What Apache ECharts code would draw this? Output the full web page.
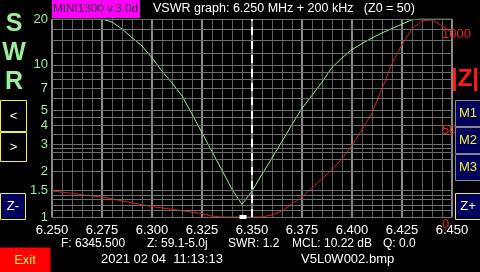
<!DOCTYPE html>
<html><head><meta charset="utf-8">
<style>html,body{margin:0;padding:0;background:#000;}#c{width:480px;height:272px;}</style>
<script src="https://cdn.jsdelivr.net/npm/echarts@6/dist/echarts.min.js"></script>
</head><body><div id="c"></div>
<script>
// Frequencies in MHz
const freqs = [6.250,6.255,6.260,6.265,6.270,6.275,6.280,6.285,6.290,6.295,6.300,6.305,6.310,6.315,6.320,6.325,6.330,6.335,6.340,6.345,6.3455,6.350,6.355,6.360,6.365,6.370,6.375,6.380,6.385,6.390,6.395,6.400,6.405,6.410,6.415,6.420,6.425,6.430,6.435,6.440,6.445,6.450];
// SWR values (left, log scale)
const swr = [20,20,20,20,20,20,19.1,17.2,15.1,13.3,11.1,9.1,7.6,6.25,4.75,3.57,2.69,2.03,1.52,1.21,1.2,1.48,1.91,2.44,3.14,4.05,5.17,6.3,7.7,9.6,11.1,12.6,13.8,15.0,16.2,17.3,18.5,19.8,20,20,20,20];
// |Z| values in ohms (right scale)
const zmag = [150,143,136,128,121,115,104,93,82,71,60,52,44,36,28,20,5,0,0,0,0,0,0,12,35,75,115,167,221,272,336,412,503,600,738,885,991,1083,1129,1135,1101,1060];
// Tick labels
const swrLabels = [1,1.5,2,3,4,5,7,10,13,16,20];
const swrGrid = [1,1.1,1.2,1.3,1.4,1.5,2,2.4,2.65,2.85,3,3.5,4,4.5,5,6,7,8,9,10,12,14.5,17,20];
const zLabels = [0,500,1000];
const cursorFreq = 6.3455;

const green = '#9aee9a', red = '#d81c24', yel = '#f0f040', navy = '#00005a';
const font = '"Liberation Sans", Arial, sans-serif';

const chart = echarts.init(document.getElementById('c'), null, {renderer:'canvas'});

const gridLines = swrGrid.map(v => ({yAxis: v, label:{show: swrLabels.indexOf(v) >= 0, formatter: String(v)}}));
const zOffsets = {0:[0,7], 500:[0,0], 1000:[0,-9]};
const zLabelLines = zLabels.map(v => ({yAxis: v, label:{formatter: String(v), offset: zOffsets[v]}}));

function btn(x, y, w, h, fill, stroke, txt, tcol, fs) {
  return {type:'group', x:x, y:y, z:100, children:[
    {type:'rect', z:100, shape:{x:0,y:0,width:w,height:h}, style:{fill:fill, stroke:stroke, lineWidth:1}},
    {type:'text', z:101, x:w/2, y:h/2, style:{text:txt, fill:tcol, font:fs+'px '+font, textAlign:'center', textVerticalAlign:'middle'}}
  ]};
}

chart.setOption({
  backgroundColor:'#000',
  animation:false,
  grid:{left:52, right:28, top:19, bottom:55},
  xAxis:{type:'value', min:6.25, max:6.45, interval:0.025,
    axisLine:{show:false}, axisTick:{show:false},
    axisLabel:{color:'#fff', fontSize:13, fontFamily:font, margin:7, formatter:v=>v.toFixed(3)},
    splitLine:{show:true, lineStyle:{color:'#8a8a8a', width:2}},
    minorTick:{show:false, splitNumber:5},
    minorSplitLine:{show:true, lineStyle:{color:'#5c5c5c', width:1}}
  },
  yAxis:[
    {type:'log', logBase:10, min:1, max:20, axisLine:{show:false}, axisTick:{show:false}, axisLabel:{show:false}, splitLine:{show:false}},
    {type:'value', min:0, max:1140, position:'right', axisLine:{show:false}, axisTick:{show:false}, axisLabel:{show:false}, splitLine:{show:false}}
  ],
  series:[
    {type:'line', yAxisIndex:0, data:[], silent:true,
      markLine:{silent:true, symbol:'none', animation:false,
        lineStyle:{color:'#6e6e6e', type:'solid', width:1},
        label:{position:'start', color:green, fontSize:13, fontFamily:font, distance:4},
        data:gridLines}},
    {name:'Z', type:'line', yAxisIndex:1, data:freqs.map((f,i)=>[f,zmag[i]]), showSymbol:false,
      lineStyle:{color:red, width:1}, z:3,
      markLine:{silent:true, symbol:'none', animation:false,
        lineStyle:{color:'rgba(0,0,0,0)', width:0},
        label:{show:true, position:'end', color:'#e8202a', fontSize:13, fontFamily:font, distance:-10},
        data:zLabelLines}},
    {name:'SWR', type:'line', yAxisIndex:0, data:freqs.map((f,i)=>[f,swr[i]]), showSymbol:false,
      lineStyle:{color:green, width:1}, z:4,
      markLine:{silent:true, symbol:'none', animation:false,
        lineStyle:{color:'#fff', type:[8,6], width:2}, label:{show:false},
        data:[{xAxis:cursorFreq}]},
      markPoint:{silent:true, symbol:'rect', symbolSize:[7,4], itemStyle:{color:'#fff'}, label:{show:false},
        data:[{coord:[cursorFreq,1]}]}}
  ],
  graphic:[
    {type:'rect', shape:{x:52,y:0,width:88,height:18}, style:{fill:'#ff00ff'}},
    {type:'text', x:53, y:9, style:{text:'MINI1300 v.3.0d', fill:'#2a002a', font:'11.7px '+font, textVerticalAlign:'middle'}},
    {type:'text', x:153, y:9, style:{text:'VSWR graph: 6.250 MHz + 200 kHz   (Z0 = 50)', fill:'#fff', font:'12.5px '+font, textVerticalAlign:'middle'}},
    {type:'text', x:14, y:24, style:{text:'S', fill:green, font:'bold 25px '+font, textAlign:'center', textVerticalAlign:'middle'}},
    {type:'text', x:14, y:53, style:{text:'W', fill:green, font:'bold 25px '+font, textAlign:'center', textVerticalAlign:'middle'}},
    {type:'text', x:14, y:82, style:{text:'R', fill:green, font:'bold 25px '+font, textAlign:'center', textVerticalAlign:'middle'}},
    btn(0.5,100.5,26,31,'#000',yel,'<','#fff',13),
    btn(0.5,132.5,26,29,'#000',yel,'>','#fff',13),
    btn(0.5,193.5,25,26,navy,yel,'Z-','#fff',13),
    {type:'text', x:465, y:79, style:{text:'|Z|', fill:'#ff1a1a', font:'bold 24px '+font, textAlign:'center', textVerticalAlign:'middle'}},
    btn(455.5,100.5,25,26,navy,'#888','M1',yel,13),
    btn(455.5,127.5,25,26,navy,'#888','M2',yel,13),
    btn(455.5,154.5,25,26,navy,'#888','M3',yel,13),
    btn(455.5,193.5,25,26,navy,yel,'Z+','#fff',13),
    {type:'text', x:61, y:244, style:{text:'F: 6345.500', fill:'#fff', font:'12px '+font, textVerticalAlign:'middle'}},
    {type:'text', x:147, y:244, style:{text:'Z: 59.1-5.0j', fill:'#fff', font:'12px '+font, textVerticalAlign:'middle'}},
    {type:'text', x:228, y:244, style:{text:'SWR: 1.2', fill:'#fff', font:'12px '+font, textVerticalAlign:'middle'}},
    {type:'text', x:292, y:244, style:{text:'MCL: 10.22 dB', fill:'#fff', font:'12px '+font, textVerticalAlign:'middle'}},
    {type:'text', x:383, y:244, style:{text:'Q: 0.0', fill:'#fff', font:'12px '+font, textVerticalAlign:'middle'}},
    btn(0,248,50,24,'#ff0000','#ff0000','Exit',yel,13),
    {type:'text', x:101, y:259, style:{text:'2021 02 04  11:13:13', fill:'#fff', font:'13px '+font, textVerticalAlign:'middle'}},
    {type:'text', x:301, y:259, style:{text:'V5L0W002.bmp', fill:'#fff', font:'13px '+font, textVerticalAlign:'middle'}}
  ]
});
</script></body></html>
